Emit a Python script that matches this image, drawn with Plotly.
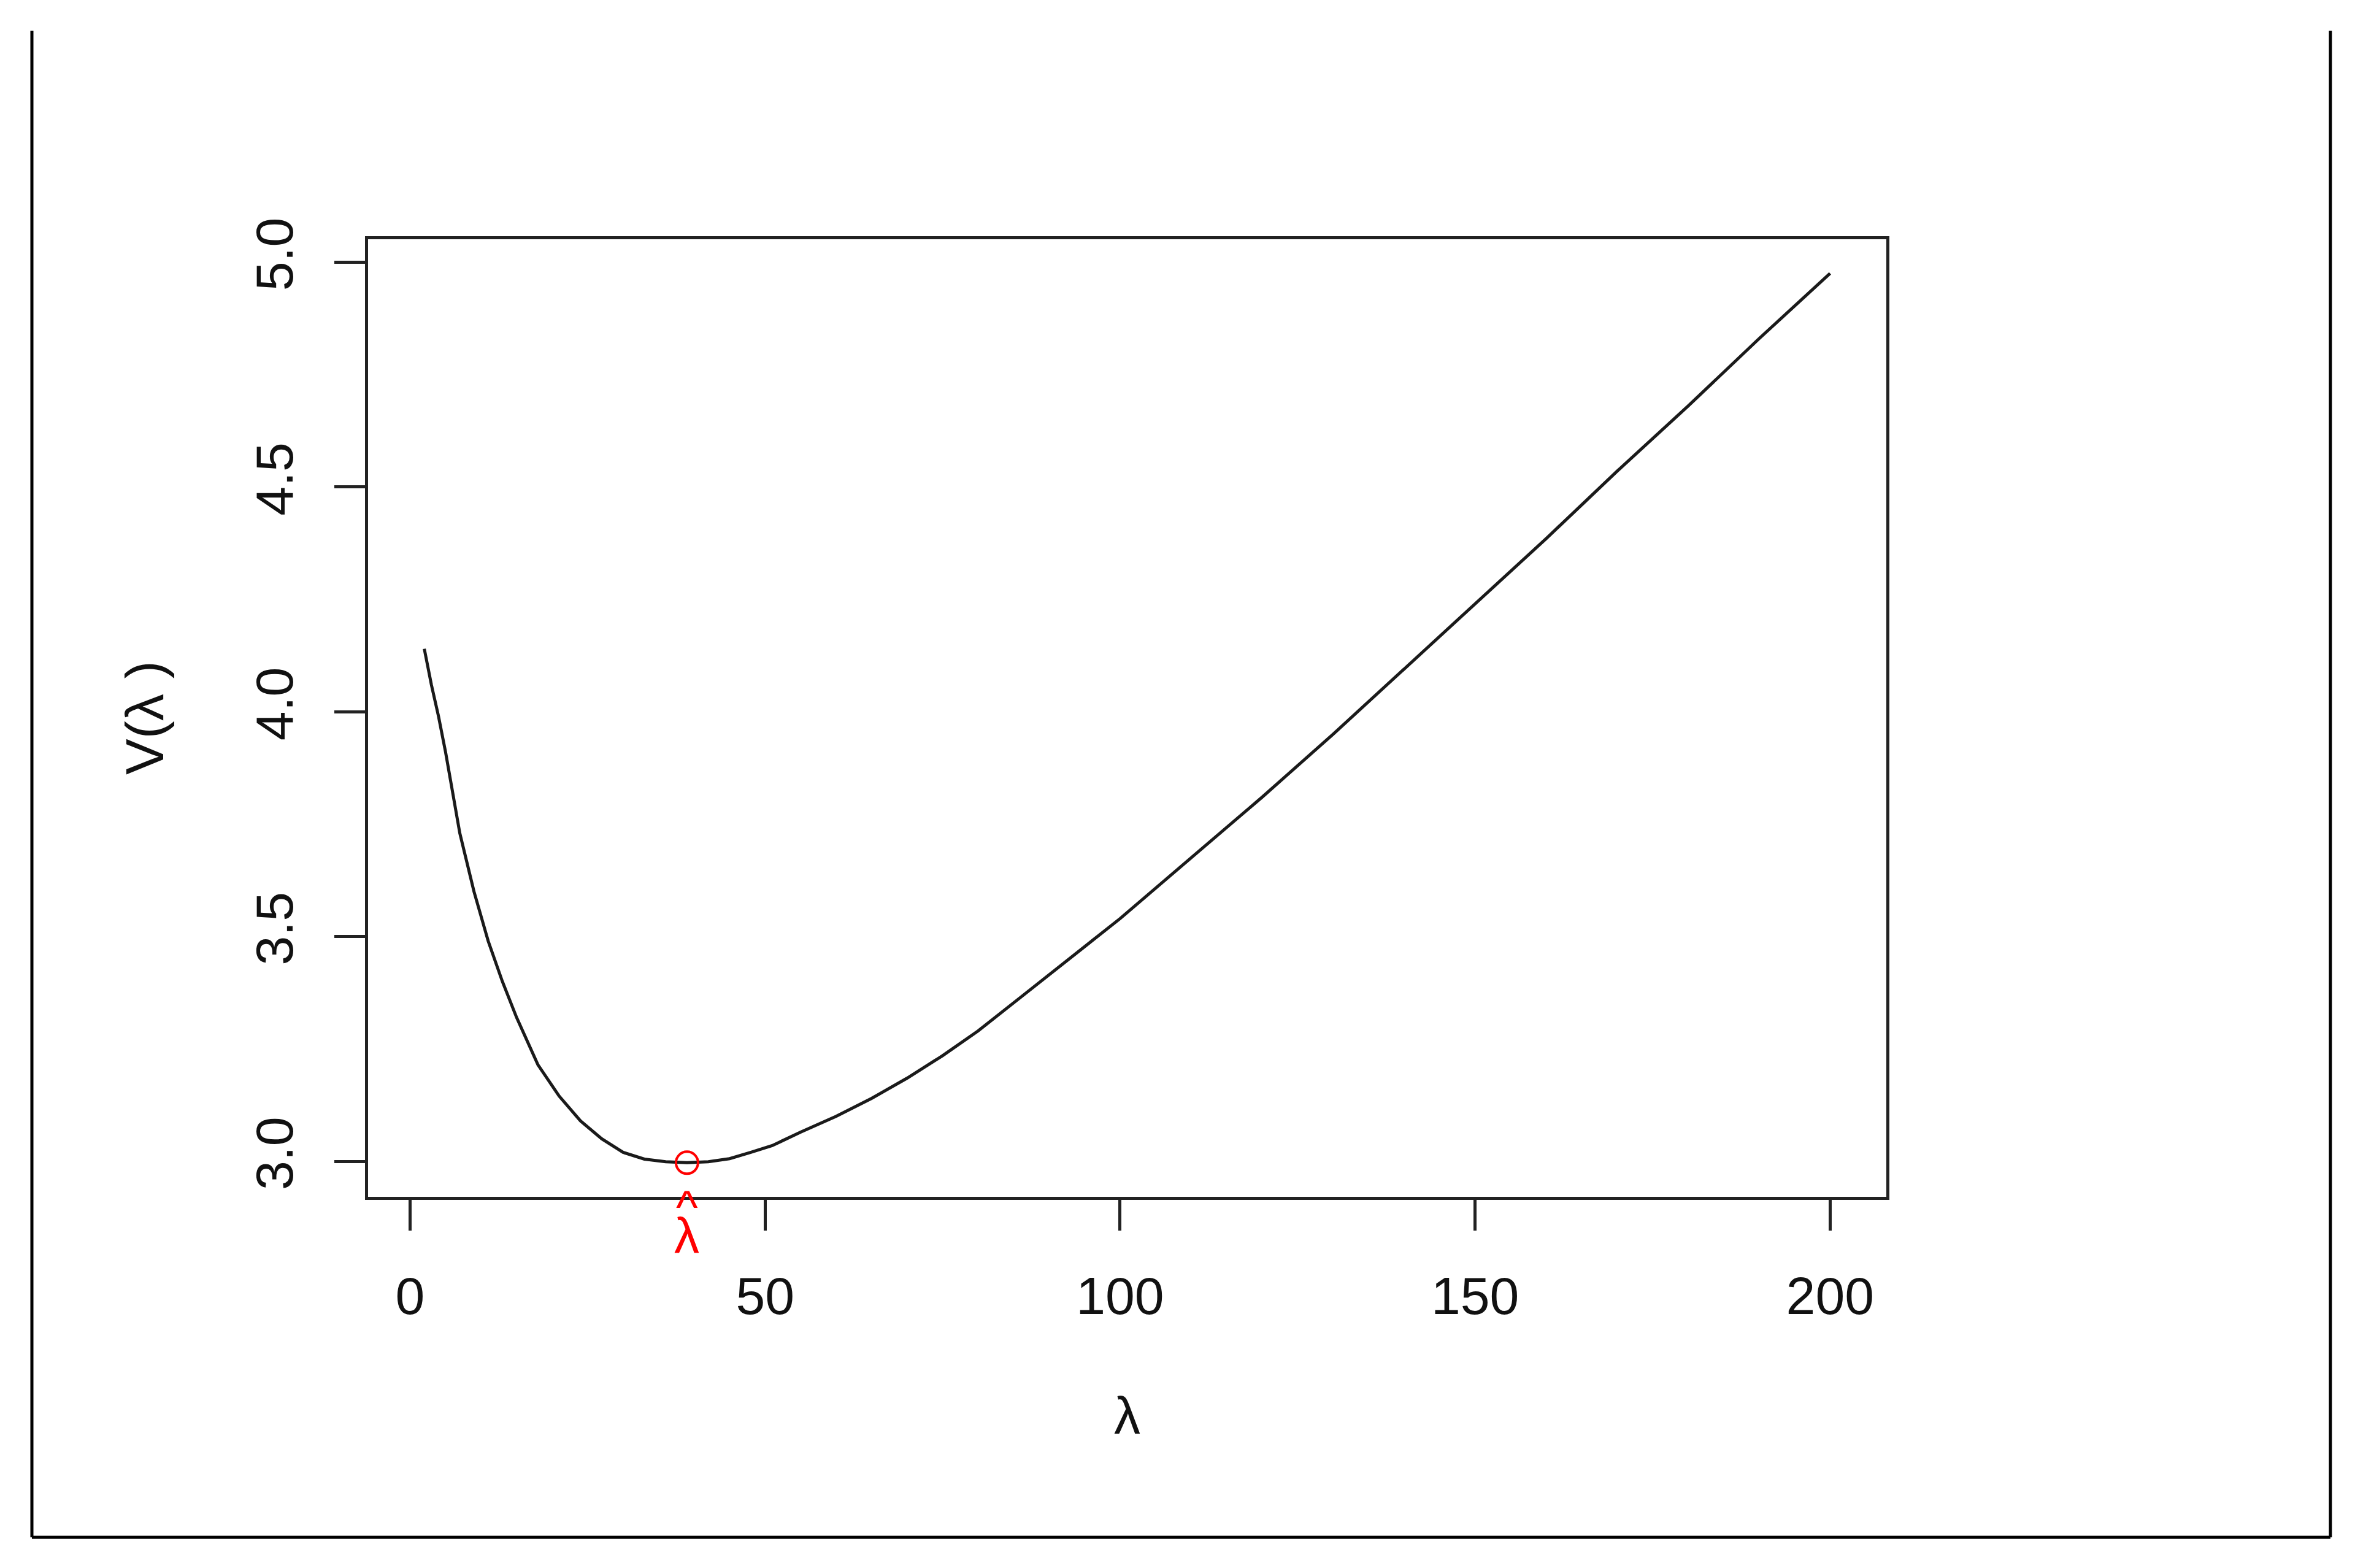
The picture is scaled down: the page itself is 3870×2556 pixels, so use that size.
import plotly.graph_objects as go

# V(lambda)
LAMBDA = [2, 3, 4, 5, 6, 7, 9, 11, 13, 15, 18, 21, 24, 27, 30, 33, 36, 39, 42, 45,
          48, 51, 55, 60, 65, 70, 75, 80, 86, 92, 100, 110, 120, 130, 140, 150,
          160, 170, 180, 190, 200]
V = [4.14, 4.06, 3.99, 3.91, 3.82, 3.73, 3.60, 3.49, 3.40, 3.32, 3.215, 3.145,
     3.09, 3.05, 3.02, 3.005, 2.999, 2.997, 2.999, 3.006, 3.02, 3.035, 3.065,
     3.10, 3.14, 3.185, 3.235, 3.29, 3.365, 3.44, 3.54, 3.675, 3.81, 3.95,
     4.095, 4.24, 4.385, 4.535, 4.68, 4.83, 4.975]
LAMBDA_HAT = 39
V_HAT = 2.997

X_TICKS = [0, 50, 100, 150, 200]
Y_TICKS = [3.0, 3.5, 4.0, 4.5, 5.0]

W, H = 3854, 2540
L, R, T, B = 592, 787, 382, 597
PW, PH = W - L - R, H - T - B
FONT = "Liberation Sans, Arial, sans-serif"
AX = "#222222"


def px(x):
    return (x - L) / PW


def py(y):
    return (H - B - y) / PH


fig = go.Figure()
fig.add_trace(go.Scatter(x=LAMBDA, y=V, mode="lines",
                         line={"color": "#1a1a1a", "width": 5}, showlegend=False))
fig.add_trace(go.Scatter(x=[LAMBDA_HAT], y=[V_HAT], mode="markers",
                         marker={"symbol": "circle-open", "size": 36, "color": "#ff0000",
                                 "line": {"width": 4, "color": "#ff0000"}},
                         showlegend=False))

axis_common = dict(showline=True, linecolor=AX, linewidth=5, mirror=True,
                   ticks="outside", ticklen=50, tickwidth=5, tickcolor=AX,
                   showgrid=False, zeroline=False,
                   tickfont={"family": FONT, "size": 86, "color": "#111111"})

fig.update_xaxes(range=[-5.92, 207.92], tickvals=X_TICKS, ticktext=[str(v) for v in X_TICKS],
                 ticklabelstandoff=33, **axis_common)
fig.update_yaxes(range=[2.921, 5.051], tickvals=Y_TICKS, ticktext=[f"{v:.1f}" for v in Y_TICKS],
                 tickangle=-90, ticklabelstandoff=34, **axis_common)

ann = [
    dict(text="λ", x=px(1829), y=py(2299), font={"size": 86}),
    dict(text="V(λ )", x=px(227), y=py(1162), textangle=-90, font={"size": 88}),
    dict(text="^", x=LAMBDA_HAT, xref="x", y=py(1960), font={"size": 76, "color": "#ff0000"}),
    dict(text="λ", x=LAMBDA_HAT, xref="x", y=py(2006), font={"size": 82, "color": "#ff0000"}),
]
for a in ann:
    a.setdefault("xref", "paper")
    a["yref"] = "paper"
    a["showarrow"] = False
    a["xanchor"] = "center"
    a["yanchor"] = "middle"
    a["font"] = {"family": FONT, "color": "#111111", **a["font"]}
    fig.add_annotation(**a)

# outer device frame (no top edge)
frame = dict(type="line", xref="paper", yref="paper", line={"color": "black", "width": 5})
fig.add_shape(x0=px(44), x1=px(44), y0=py(42), y1=py(2498), **frame)
fig.add_shape(x0=px(3791), x1=px(3791), y0=py(42), y1=py(2498), **frame)
fig.add_shape(x0=px(44), x1=px(3791), y0=py(2498), y1=py(2498), **frame)

fig.update_layout(
    width=W, height=H, autosize=False,
    margin={"l": L, "r": R, "t": T, "b": B, "pad": 0},
    paper_bgcolor="white", plot_bgcolor="white",
    font={"family": FONT, "color": "#111111"},
)
fig.write_html("out.html")
